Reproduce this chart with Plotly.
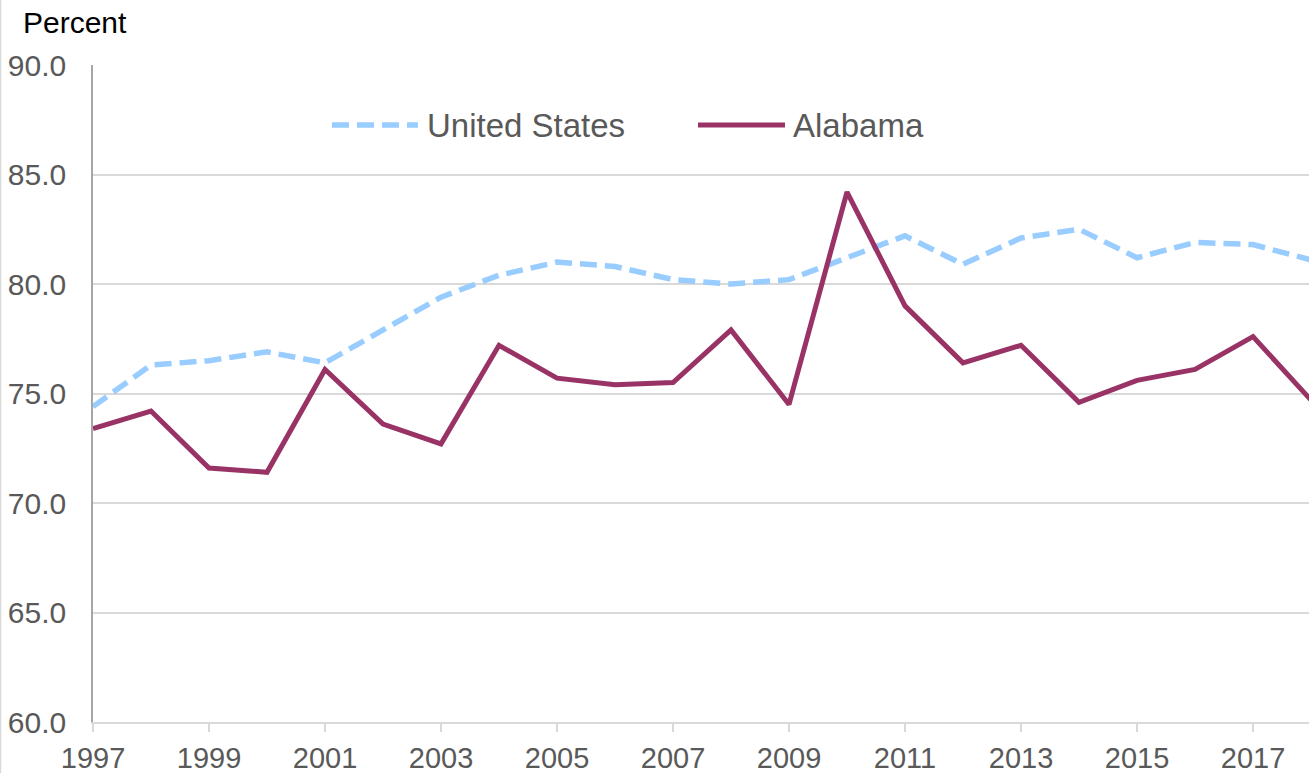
import plotly.graph_objects as go

years = list(range(1997, 2019))
us = [74.4, 76.3, 76.5, 76.9, 76.4, 77.9, 79.4, 80.4, 81.0, 80.8, 80.2, 80.0,
      80.2, 81.2, 82.2, 80.9, 82.1, 82.5, 81.2, 81.9, 81.8, 81.1]
alabama = [73.4, 74.2, 71.6, 71.4, 76.1, 73.6, 72.7, 77.2, 75.7, 75.4, 75.5, 77.9,
           74.5, 84.2, 79.0, 76.4, 77.2, 74.6, 75.6, 76.1, 77.6, 74.7]
y_ticks = [60, 65, 70, 75, 80, 85, 90]
x_ticks = list(range(1997, 2018, 2))
series_names = ["United States", "Alabama"]

US_COLOR = "#99ccff"
AL_COLOR = "#993366"
FONT = "Arial, Liberation Sans, sans-serif"
US_DASH = "17px,8px"

W, H = 1309, 773
L, R, T, B = 93, 0, 65, 51
pw, ph = W - L - R, H - T - B

def px_x(p):
    return (p - L) / pw

def px_y(p):
    return (H - B - p) / ph

fig = go.Figure()
fig.add_trace(go.Scatter(x=years, y=us, mode="lines", name=series_names[0],
                         line=dict(color=US_COLOR, width=5.5, dash=US_DASH),
                         showlegend=False))
fig.add_trace(go.Scatter(x=years, y=alabama, mode="lines", name=series_names[1],
                         line=dict(color=AL_COLOR, width=5),
                         showlegend=False))

# custom legend (long line samples as in the reference)
leg_y = px_y(125)
shapes = [
    dict(type="line", xref="paper", yref="paper", x0=px_x(332), x1=px_x(418),
         y0=leg_y, y1=leg_y, line=dict(color=US_COLOR, width=5.5, dash=US_DASH)),
    dict(type="line", xref="paper", yref="paper", x0=px_x(698), x1=px_x(785),
         y0=leg_y, y1=leg_y, line=dict(color=AL_COLOR, width=5)),
    dict(type="line", xref="paper", yref="paper", x0=px_x(0.5), x1=px_x(0.5),
         y0=px_y(0), y1=px_y(H), line=dict(color="#d9d9d9", width=1.5)),
]
annotations = [
    dict(text=series_names[0], xref="paper", yref="paper", x=px_x(425), y=leg_y,
         xanchor="left", yanchor="middle", showarrow=False,
         font=dict(family=FONT, size=33, color="#595959")),
    dict(text=series_names[1], xref="paper", yref="paper", x=px_x(791), y=leg_y,
         xanchor="left", yanchor="middle", showarrow=False,
         font=dict(family=FONT, size=33, color="#595959")),
    dict(text="Percent", xref="paper", yref="paper", x=px_x(21), y=px_y(22),
         xanchor="left", yanchor="middle", showarrow=False,
         font=dict(family=FONT, size=30, color="#000000")),
]

fig.update_layout(
    width=W, height=H,
    margin=dict(l=L, r=R, t=T, b=B, pad=0, autoexpand=False),
    paper_bgcolor="white", plot_bgcolor="white",
    shapes=shapes, annotations=annotations,
    font=dict(family=FONT, color="#595959"),
)
fig.update_xaxes(
    range=[1997, 1997 + pw / 58.0],
    tickmode="array", tickvals=x_ticks, ticktext=[str(v) for v in x_ticks],
    showgrid=False, zeroline=False, automargin=False,
    showline=True, linecolor="#d9d9d9", linewidth=2,
    ticks="outside", ticklen=8, tickcolor="#d9d9d9", tickwidth=1.5,
    ticklabelstandoff=1,
    tickfont=dict(family=FONT, size=29, color="#595959"),
)
fig.update_yaxes(
    range=[60, 90],
    tickmode="array", tickvals=y_ticks, ticktext=[f"{v:.1f}" for v in y_ticks],
    showgrid=True, gridcolor="#d9d9d9", gridwidth=1.5,
    zeroline=False, automargin=False,
    showline=True, linecolor="#a6a6a6", linewidth=1.5,
    ticks="", ticklabelstandoff=19,
    tickfont=dict(family=FONT, size=30, color="#595959"),
)

fig.write_html(
    "out.html",
    config={"displayModeBar": False},
    post_script="document.body.style.margin='0';document.body.style.overflow='hidden';",
)
